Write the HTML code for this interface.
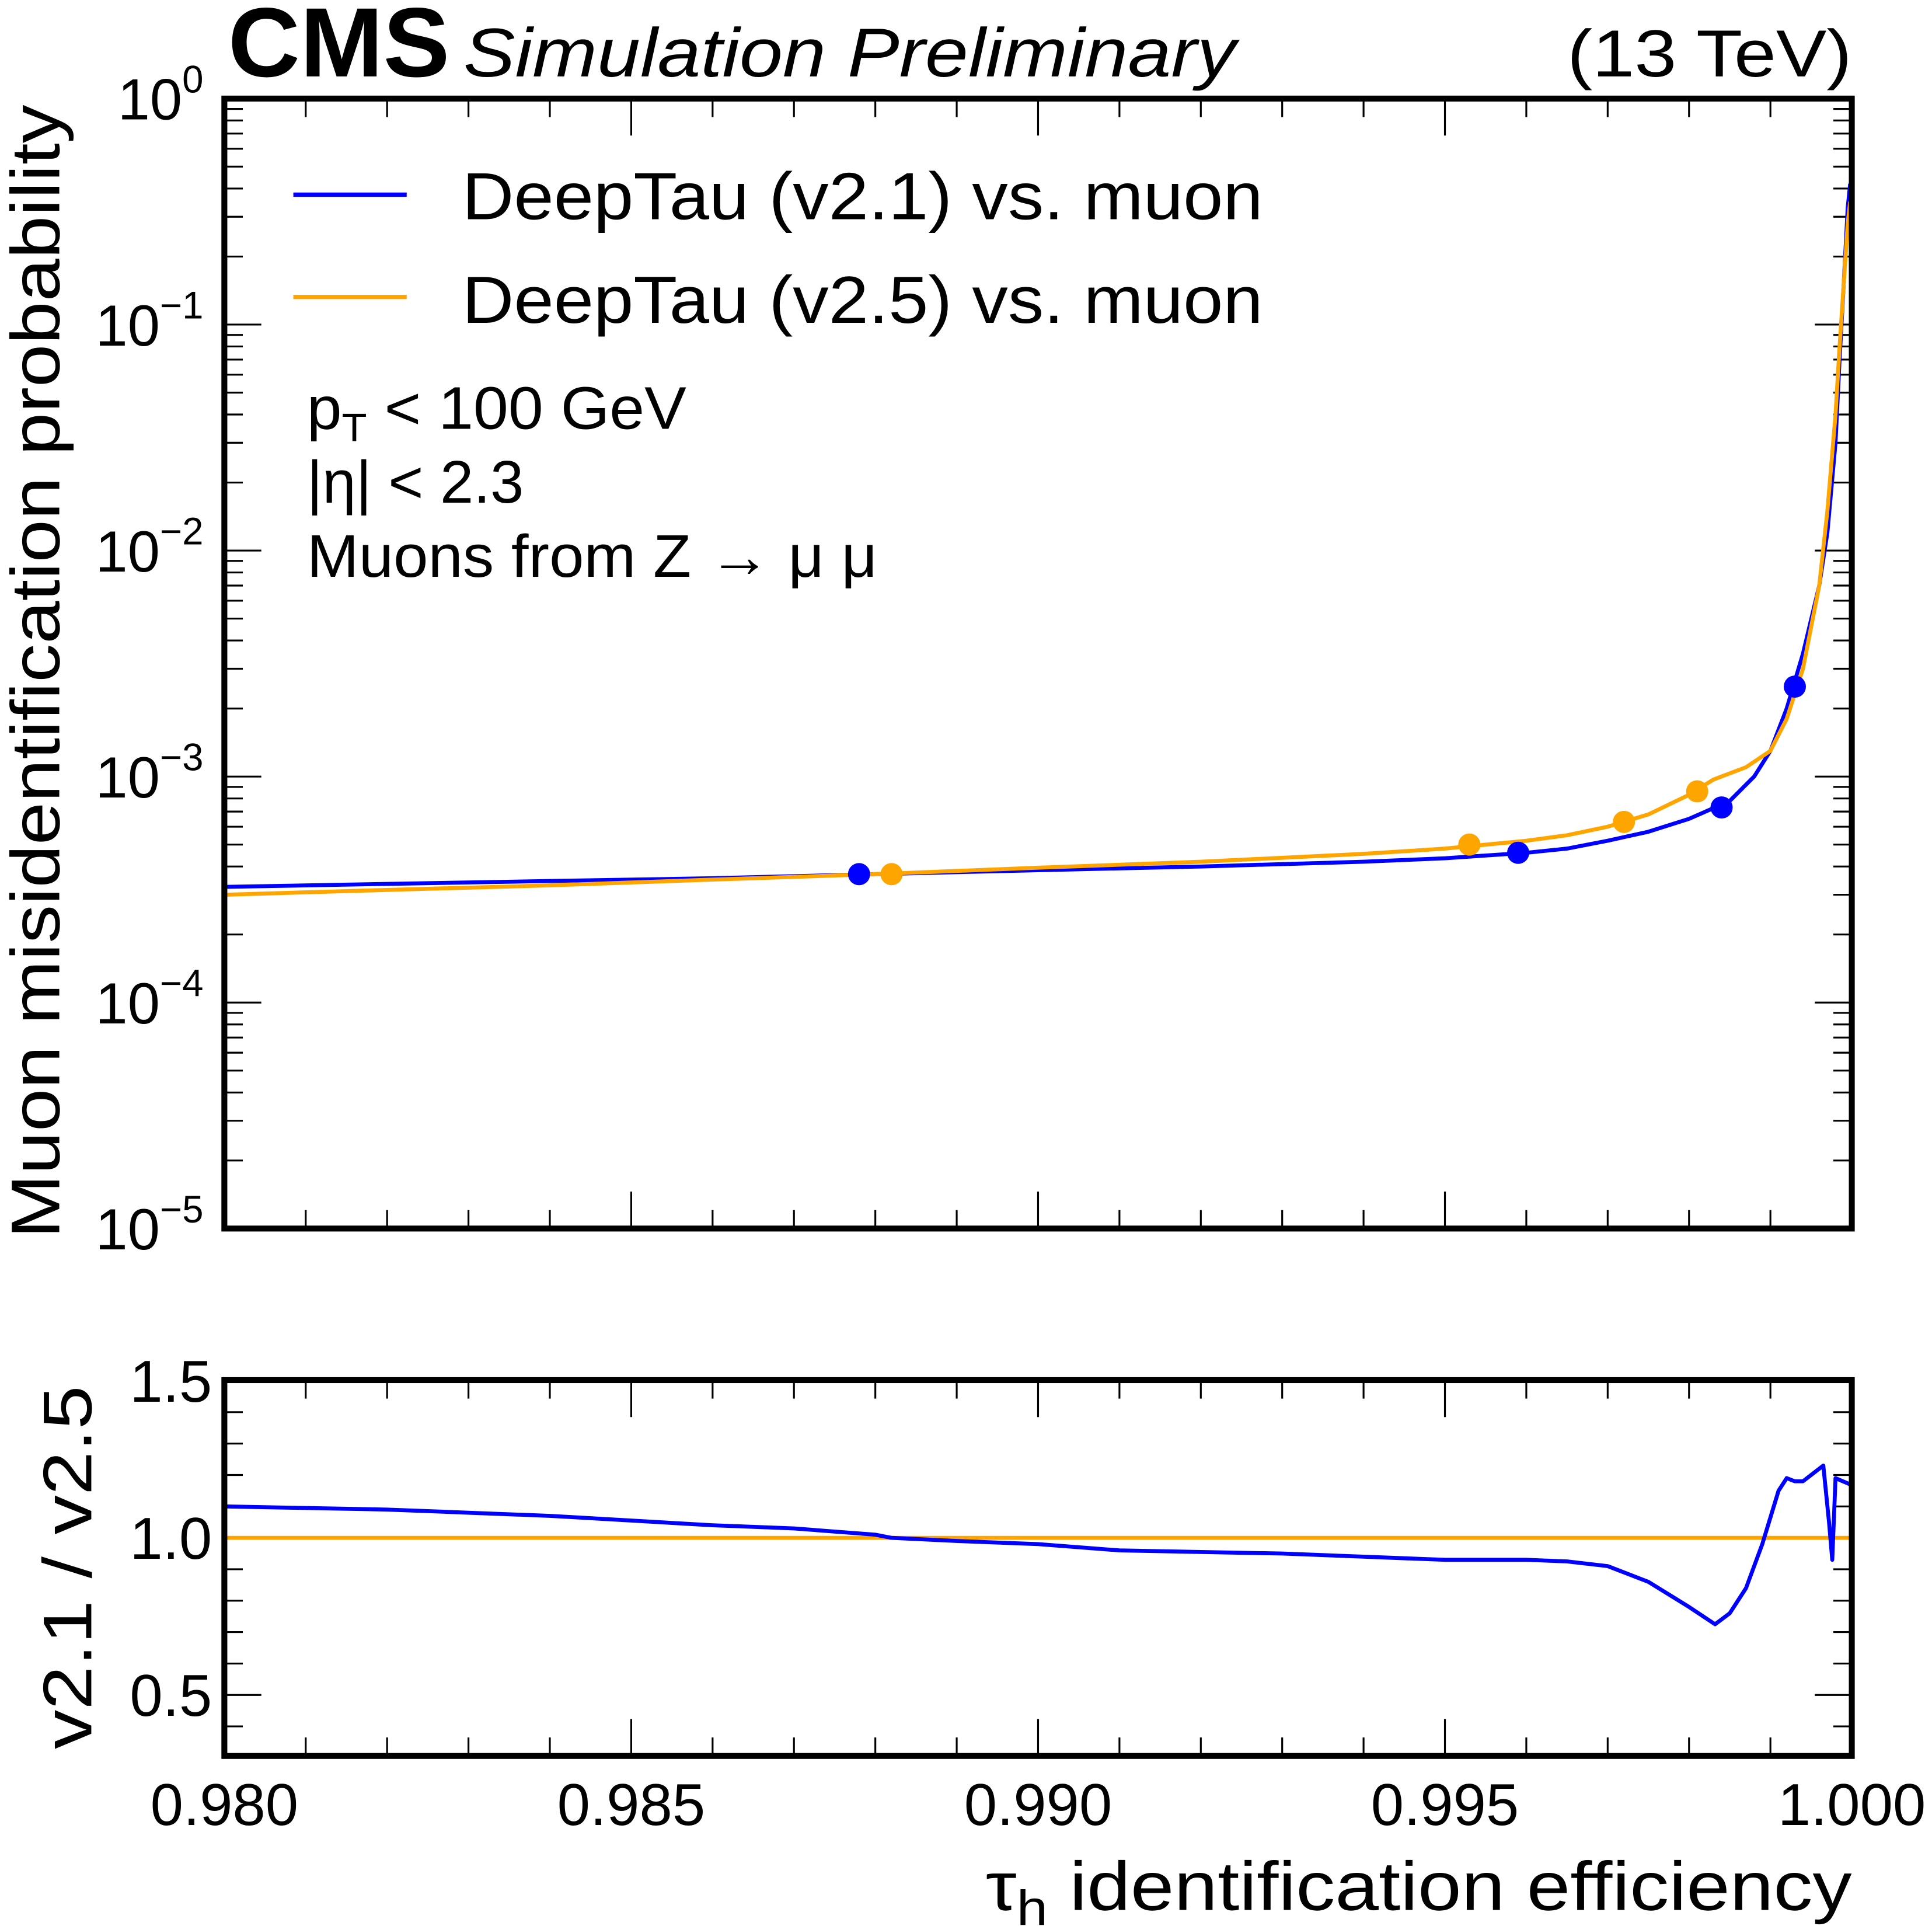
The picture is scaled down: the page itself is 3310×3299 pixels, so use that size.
<!DOCTYPE html>
<html><head><meta charset="utf-8"><style>html,body{margin:0;padding:0;background:#fff}svg{display:block}</style></head>
<body>
<svg id="chart" width="3310" height="3299" viewBox="0 0 1568 1563" xmlns="http://www.w3.org/2000/svg" font-family="'Liberation Sans', sans-serif">
<text x="185" y="62" font-size="80" font-weight="bold" textLength="180" lengthAdjust="spacingAndGlyphs">CMS</text>
<text x="376" y="62" font-size="56" font-style="italic" textLength="627" lengthAdjust="spacingAndGlyphs">Simulation Preliminary</text>
<text x="1272" y="62" font-size="54" textLength="231" lengthAdjust="spacingAndGlyphs">(13 TeV)</text>
<g id="main"></g>
<g id="ratio"></g>
<g>
<line x1="238" y1="158" x2="330" y2="158" stroke="#0000ff" stroke-width="3.5"/>
<text x="375" y="178" font-size="54" textLength="650" lengthAdjust="spacingAndGlyphs">DeepTau (v2.1) vs. muon</text>
<line x1="238" y1="241" x2="330" y2="241" stroke="#ffa500" stroke-width="3.5"/>
<text x="375" y="262" font-size="54" textLength="650" lengthAdjust="spacingAndGlyphs">DeepTau (v2.5) vs. muon</text>
</g>
<text x="249" y="348" font-size="49" textLength="308" lengthAdjust="spacingAndGlyphs">p<tspan font-size="32" dy="10">T</tspan><tspan dy="-10"> &lt; 100 GeV</tspan></text>
<text x="249" y="408" font-size="49" textLength="176" lengthAdjust="spacingAndGlyphs">|η| &lt; 2.3</text>
<text x="249" y="468" font-size="49" textLength="463" lengthAdjust="spacingAndGlyphs">Muons from Z → μ μ</text>
<text transform="translate(48,545) rotate(-90)" font-size="56" text-anchor="middle" textLength="920" lengthAdjust="spacingAndGlyphs">Muon misidentification probability</text>
<text transform="translate(74,1272) rotate(-90)" font-size="56" text-anchor="middle" textLength="295" lengthAdjust="spacingAndGlyphs">v2.1 / v2.5</text>
<text x="800" y="1550" font-size="56" textLength="703" lengthAdjust="spacingAndGlyphs">τ<tspan font-size="40" dy="12">h</tspan><tspan dy="-12"> identification efficiency</tspan></text>
<script>
const xV21 = [0.980,0.982,0.984,0.986,0.988,0.990,0.992,0.994,0.995,0.996,0.9965,0.997,0.9975,0.998,0.9985,0.9988,0.999,0.9992,0.9994,0.9996,0.9997,0.9998,0.99985,0.9999,0.99995,0.99998];
const yV21 = [3.25e-4,3.35e-4,3.45e-4,3.55e-4,3.7e-4,3.85e-4,4.0e-4,4.2e-4,4.35e-4,4.6e-4,4.8e-4,5.2e-4,5.7e-4,6.5e-4,7.8e-4,1.0e-3,1.3e-3,2.0e-3,3.5e-3,7e-3,1.2e-2,3e-2,0.07,0.15,0.33,0.42];
const xV25 = [0.980,0.982,0.984,0.986,0.988,0.990,0.992,0.994,0.995,0.996,0.9965,0.997,0.9975,0.998,0.9983,0.9987,0.999,0.9992,0.9994,0.9996,0.9997,0.9998,0.99985,0.9999,0.99995,0.99998];
const yV25 = [3.0e-4,3.15e-4,3.3e-4,3.5e-4,3.7e-4,3.95e-4,4.2e-4,4.55e-4,4.8e-4,5.2e-4,5.5e-4,6.0e-4,6.8e-4,8.3e-4,9.7e-4,1.1e-3,1.3e-3,1.8e-3,3.0e-3,7e-3,1.5e-2,4e-2,0.08,0.15,0.28,0.35];
const dotXV21 = [0.9878,0.9959,0.9984,0.9993];
const dotYV21 = [3.7e-4,4.6e-4,7.3e-4,2.5e-3];
const dotXV25 = [0.9882,0.9953,0.9972,0.9981];
const dotYV25 = [3.7e-4,5.0e-4,6.3e-4,8.6e-4];
const xRatio = [0.980,0.981,0.982,0.983,0.984,0.985,0.986,0.987,0.988,0.9882,0.989,0.990,0.991,0.992,0.993,0.994,0.995,0.996,0.9965,0.997,0.9975,0.998,0.99832,0.9985,0.9987,0.9989,0.9991,0.9992,0.9993,0.9994,0.99965,0.99972,0.99976,0.9998,0.99998];
const yRatio = [1.10,1.095,1.09,1.08,1.07,1.055,1.04,1.03,1.01,1.0,0.99,0.98,0.96,0.955,0.95,0.94,0.93,0.93,0.925,0.91,0.86,0.78,0.725,0.76,0.84,0.98,1.15,1.19,1.18,1.18,1.23,1.05,0.93,1.19,1.17];
const xTicks = [0.980,0.985,0.990,0.995,1.000];
const xTickLabels = ["0.980","0.985","0.990","0.995","1.000"];
const yExps = [0,-1,-2,-3,-4,-5];
const rTicks = [0.5,1.0,1.5];
const rTickLabels = ["0.5","1.0","1.5"];

const NS='http://www.w3.org/2000/svg';
const L=182,R=1503,MT=80,MB=997,RT=1120,RB=1425;
const X=v=>L+(v-0.98)/0.02*(R-L);
const Y=v=>MT+(-Math.log10(v))*(MB-MT)/5;
const YR=v=>1248-(v-1)*255;
function mk(p,t,a){const e=document.createElementNS(NS,t);for(const k in a)e.setAttribute(k,a[k]);p.appendChild(e);return e;}
const main=document.getElementById('main'), ratio=document.getElementById('ratio');

function xticks(g,top,bot){
  for(let i=0;i<=20;i++){const v=0.98+i*0.001,x=X(v),maj=i%5===0,len=maj?30:15;
    let t=mk(g,'line',{x1:x,y1:bot,x2:x,y2:bot-len,stroke:'#000','stroke-width':1.5});
    
    
    t=mk(g,'line',{x1:x,y1:top,x2:x,y2:top+len,stroke:'#000','stroke-width':1.5});
    
    }
}
xticks(main,MT,MB); xticks(ratio,RT,RB);
for(let d=0;d<5;d++){for(let m=1;m<10;m++){const v=Math.pow(10,-d-1)*m,y=Y(v),len=m===1?30:15;
  for(const [x0,s] of [[L,1],[R,-1]]){const t=mk(main,'line',{x1:x0,y1:y,x2:x0+s*len,y2:y,stroke:'#000','stroke-width':1.5});
  
  }}}
yExps.forEach(e=>{const y=Y(Math.pow(10,e));
  const t=mk(main,'text',{x:165,y:y+17,'font-size':47,'text-anchor':'end'});
  
  
  t.textContent='10';const s=mk(t,'tspan',{dy:-22,'font-size':31});s.textContent=e===0?'0':'−'+(-e);});
for(let i=3;i<=15;i++){const v=i/10,y=YR(v),maj=i%5===0,len=maj?30:15;
  for(const [x0,s] of [[L,1],[R,-1]]){const t=mk(ratio,'line',{x1:x0,y1:y,x2:x0+s*len,y2:y,stroke:'#000','stroke-width':1.5});
  
  }}
rTicks.forEach((v,i)=>{const t=mk(ratio,'text',{x:172,y:YR(v)+17,'font-size':48,'text-anchor':'end'});
  
  
  t.textContent=rTickLabels[i];});
xTicks.forEach((v,i)=>{const t=mk(ratio,'text',{x:X(v),y:1481,'font-size':48,'text-anchor':'middle'});
  
  
  t.textContent=xTickLabels[i];});

function path(g,xs,ys,yf,col,name){const d=xs.map((x,i)=>(i?'L':'M')+X(x).toFixed(2)+','+yf(ys[i]).toFixed(2)).join('');
  const p=mk(g,'path',{d:d,fill:'none',stroke:col,'stroke-width':3.2,'stroke-linejoin':'round'});
  
  }
function dots(g,xs,ys,col,name){xs.forEach((x,i)=>{const c=mk(g,'circle',{cx:X(x),cy:Y(ys[i]),r:9,fill:col});
  
  });}
path(main,xV21,yV21,Y,'#0000ff','curve-v21');
path(main,xV25,yV25,Y,'#ffa500','curve-v25');
dots(main,dotXV21,dotYV21,'#0000ff','wp-point-v21');
dots(main,dotXV25,dotYV25,'#ffa500','wp-point-v25');
const ref=mk(ratio,'line',{x1:L,y1:YR(1),x2:R,y2:YR(1),stroke:'#ffa500','stroke-width':3.2});


path(ratio,xRatio,yRatio,YR,'#0000ff','ratio-curve');
const f1=mk(main,'rect',{x:L,y:MT,width:R-L,height:MB-MT,fill:'none',stroke:'#000','stroke-width':4.8});


const f2=mk(ratio,'rect',{x:L,y:RT,width:R-L,height:RB-RT,fill:'none',stroke:'#000','stroke-width':4.8});


</script>
</svg>
</body></html>
